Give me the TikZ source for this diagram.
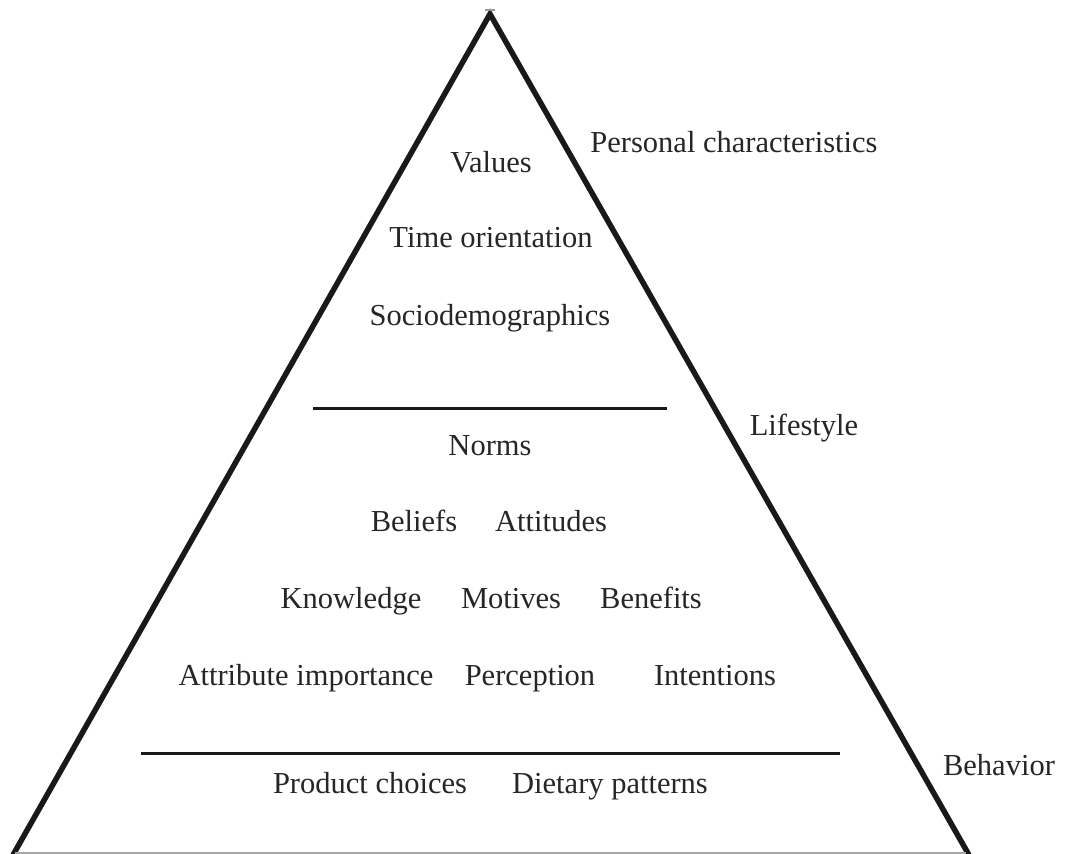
\documentclass[tikz,border=0pt]{standalone}
\usepackage{fontspec}
\setmainfont{Liberation Serif}
\begin{document}
\begin{tikzpicture}[x=1pt,y=-1pt,
  lbl/.style={anchor=base,inner sep=0pt,font=\fontsize{30.5}{35}\selectfont,text=black!85},
  side/.style={line width=5.5pt,black!90,line join=miter},
  divider/.style={line width=3pt,black!90},
  baseline/.style={line width=1.5pt,black!35}]
\useasboundingbox (0,0) rectangle (1069,854);
\clip (0,0) rectangle (1069,854);
\coordinate (apex) at (490,14);
\coordinate (bl) at (13,855);
\coordinate (br) at (969,855);
\draw[side] (bl) -- (apex) -- (br);
\coordinate (b1) at (15,853);
\coordinate (b2) at (966,853);
\draw[baseline] (b1) -- (b2);
\coordinate (t1) at (485,10);
\coordinate (t2) at (495,10);
\draw[line width=1.2pt,black!40] (t1) -- (t2);
\coordinate (d1a) at (313,408);
\coordinate (d1b) at (667,408);
\draw[divider] (d1a) -- (d1b);
\coordinate (d2a) at (141,753);
\coordinate (d2b) at (840,753);
\draw[divider] (d2a) -- (d2b);
\node[lbl] (values) at (491,172) {Values};
\node[lbl] (time) at (491,247) {Time orientation};
\node[lbl] (socio) at (490,325) {Sociodemographics};
\node[lbl] (norms) at (490,455) {Norms};
\node[lbl] (beliefs) at (414,531) {Beliefs};
\node[lbl] (attitudes) at (551,531) {Attitudes};
\node[lbl] (knowledge) at (351,608) {Knowledge};
\node[lbl] (motives) at (511,608) {Motives};
\node[lbl] (benefits) at (651,608) {Benefits};
\node[lbl] (attrib) at (306,685) {Attribute importance};
\node[lbl] (percep) at (530,685) {Perception};
\node[lbl] (intent) at (715,685) {Intentions};
\node[lbl] (product) at (370,793) {Product choices};
\node[lbl] (dietary) at (610,793) {Dietary patterns};
\node[lbl] (personal) at (734,152) {Personal characteristics};
\node[lbl] (lifestyle) at (804,435) {Lifestyle};
\node[lbl] (behavior) at (999,775) {Behavior};
\end{tikzpicture}
\end{document}
